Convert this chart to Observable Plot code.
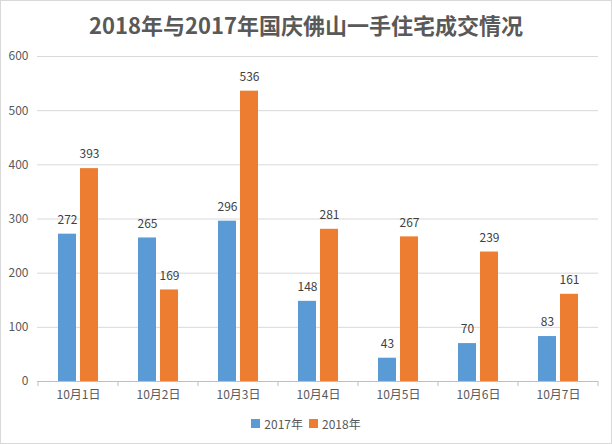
<!DOCTYPE html>
<html><head><meta charset="utf-8">
<script src="https://cdn.jsdelivr.net/npm/d3@7"></script>
<script src="https://cdn.jsdelivr.net/npm/@observablehq/plot@0.6"></script>
<style>
  html,body{margin:0;padding:0;background:#fff;}
  #chart{position:relative;width:610px;height:442px;border:1px solid #d9d9d9;background:#fff;overflow:hidden;
    font-family:"Noto Sans CJK SC","Noto Sans",sans-serif;}
  #title{height:45px;line-height:47px;text-align:center;font-size:22px;font-weight:bold;color:#595959;}
  #legend{height:26px;display:flex;align-items:center;justify-content:center;font-size:12px;color:#595959;}
  #legend .item{display:flex;align-items:center;margin:0 3px;}
  #legend .sw{width:9px;height:9px;margin-right:4px;}
  svg{display:block;}
</style>
</head><body>
<div id="chart">
  <div id="title">2018年与2017年国庆佛山一手住宅成交情况</div>
  <div id="plot"></div>
  <div id="legend"></div>
</div>
<script>
const categories = ["10月1日","10月2日","10月3日","10月4日","10月5日","10月6日","10月7日"];
const seriesNames = ["2017年","2018年"];
const values2017 = [272,265,296,148,43,70,83];
const values2018 = [393,169,536,281,267,239,161];
const yTicks = [0,100,200,300,400,500,600];
const colors = ["#5B9BD5","#ED7D31"];

const data2017 = categories.map((c,i)=>({cat:c, series:seriesNames[0], v:values2017[i]}));
const data2018 = categories.map((c,i)=>({cat:c, series:seriesNames[1], v:values2018[i]}));

function bandTicks(index, scales, values, dimensions) {
  const x = scales.x, y = scales.y;
  const bw = typeof x.bandwidth === "function" ? x.bandwidth() : 0;
  const centers = categories.map(c => x(c) + bw/2);
  const step = centers[1] - centers[0];
  const g = d3.create("svg:g");
  const y0 = y(0);
  for (let i = 0; i <= categories.length; i++) {
    const px = (i < categories.length ? centers[i] : centers[i-1] + step) - step/2;
    g.append("line").attr("x1", px).attr("x2", px).attr("y1", y0).attr("y2", y0 + 5)
      .attr("stroke", "#bfbfbf").attr("stroke-width", 1);
  }
  return g.node();
}

const plot = Plot.plot({
  width: 610,
  height: 364,
  marginLeft: 36,
  marginRight: 13,
  marginTop: 10,
  marginBottom: 29,
  style: {fontFamily: '"Noto Sans CJK SC","Noto Sans",sans-serif', fontSize: "12px", color: "#595959", background: "transparent"},
  x: {domain: categories, paddingInner: 0.5, paddingOuter: 0.25, label: null},
  y: {domain: [0, 600], label: null},
  color: {domain: seriesNames, range: colors},
  marks: [
    Plot.gridY(yTicks.filter(d => d > 0), {stroke: "#d9d9d9", strokeOpacity: 1}),
    Plot.axisY(yTicks, {tickSize: 0, tickPadding: 9, fill: "#595959", fontSize: 12, label: null}),
    Plot.axisX({tickSize: 0, tickPadding: 9, fill: "#595959", fontSize: 12, label: null}),
    Plot.barY(data2017, {x: "cat", y: "v", fill: "series", insetRight: 22}),
    Plot.barY(data2018, {x: "cat", y: "v", fill: "series", insetLeft: 22}),
    Plot.text(data2017, {x: "cat", y: "v", text: d => String(d.v), dx: -11, dy: -14, fill: "#404040", fontSize: 12}),
    Plot.text(data2018, {x: "cat", y: "v", text: d => String(d.v), dx: 11, dy: -14, fill: "#404040", fontSize: 12}),
    Plot.ruleY([0], {stroke: "#bfbfbf", strokeWidth: 1}),
    bandTicks
  ]
});
document.getElementById("plot").appendChild(plot);

const legend = document.getElementById("legend");
seriesNames.forEach((s, i) => {
  const item = document.createElement("div");
  item.className = "item";
  const sw = document.createElement("span");
  sw.className = "sw";
  sw.style.background = plot.scale("color").apply(s);
  const t = document.createElement("span");
  t.textContent = s;
  item.appendChild(sw); item.appendChild(t);
  legend.appendChild(item);
});
</script>
</body></html>
